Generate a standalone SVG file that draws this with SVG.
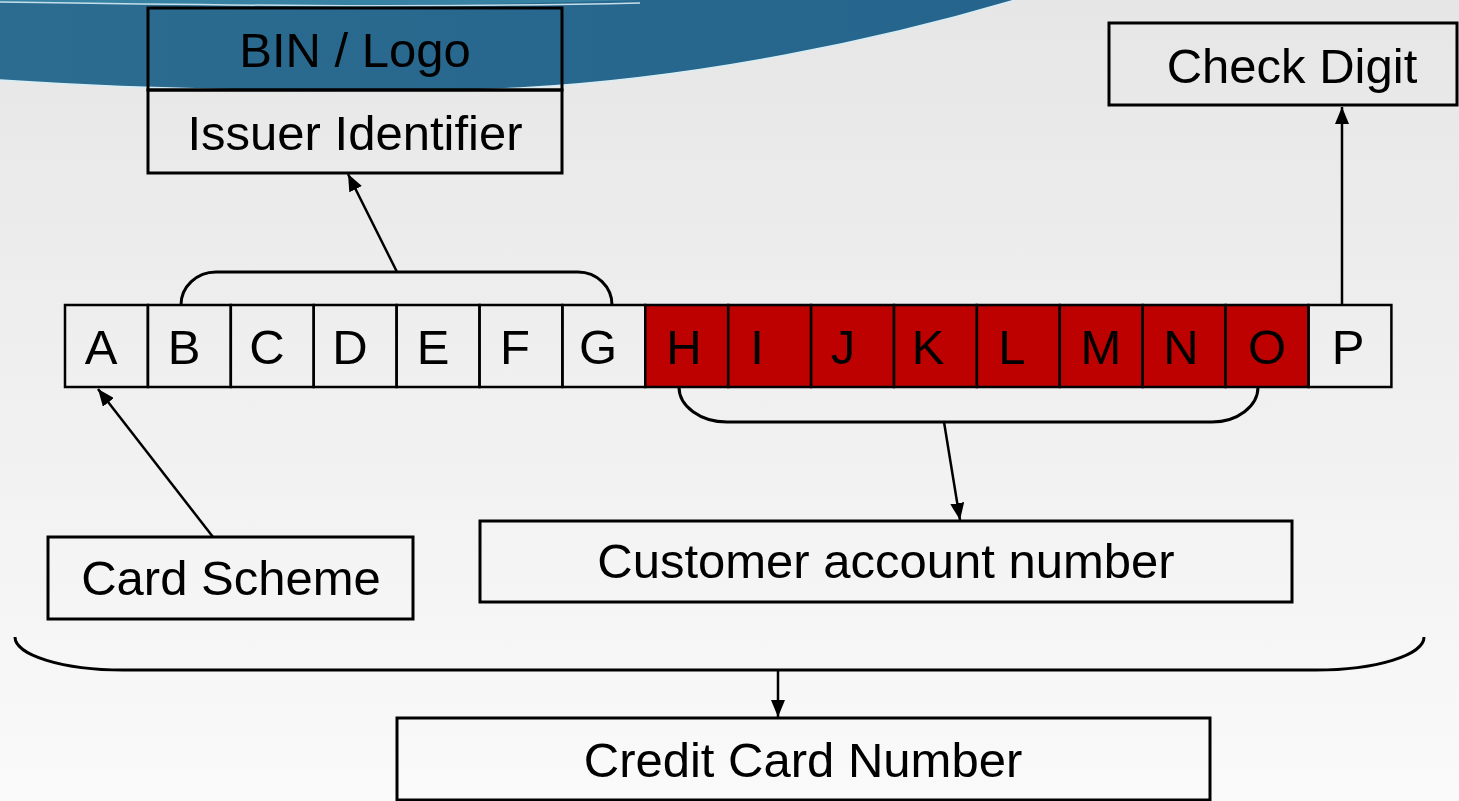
<svg xmlns="http://www.w3.org/2000/svg" width="1459" height="801" viewBox="0 0 1459 801">
<defs>
<linearGradient id="bg" x1="0" y1="0" x2="0" y2="1">
<stop offset="0" stop-color="#e6e6e6"/>
<stop offset="1" stop-color="#fafafa"/>
</linearGradient>
<linearGradient id="blue" x1="0" y1="0" x2="1" y2="0">
<stop offset="0" stop-color="#2c6c90"/>
<stop offset="1" stop-color="#25648c"/>
</linearGradient>
<marker id="arr" markerUnits="userSpaceOnUse" viewBox="0 0 17 14" refX="17" refY="7" markerWidth="17" markerHeight="14" orient="auto">
<path d="M0,0 L17,7 L0,14 z" fill="#000"/>
</marker>
</defs>
<style>
text{font-family:"Liberation Sans",Arial,sans-serif;font-size:49px;fill:#000;text-anchor:middle}
.box{fill:none;stroke:#000;stroke-width:3}
.cell{fill:none;stroke:#000;stroke-width:2.5}
.red{fill:#bd0000;stroke:#000;stroke-width:2.5}
.con{fill:none;stroke:#000;stroke-width:2.5}
.br{fill:none;stroke:#000;stroke-width:3}
</style>
<rect x="0" y="0" width="1459" height="801" fill="url(#bg)"/>
<g id="swoosh">
<path d="M0,0 L1015,0 C880,40 700,78 520,88 C380,95 150,90 0,80 Z" fill="url(#blue)"/>
<path d="M0,80 C150,90 380,95 520,88 C700,78 880,40 1015,0" fill="none" stroke="#d8eef6" stroke-width="1.5"/>
<path d="M0,0 L640,0 C420,8 200,5 0,2 Z" fill="#3781a3"/>
<path d="M0,2 C200,5 420,8 640,3" fill="none" stroke="#c4dfeb" stroke-width="1.5"/>
</g>
<g id="cells">
<rect class="cell" x="65" y="305" width="82.9" height="82"/>
<rect class="cell" x="147.9" y="305" width="82.9" height="82"/>
<rect class="cell" x="230.8" y="305" width="82.9" height="82"/>
<rect class="cell" x="313.7" y="305" width="82.9" height="82"/>
<rect class="cell" x="396.6" y="305" width="82.9" height="82"/>
<rect class="cell" x="479.5" y="305" width="82.9" height="82"/>
<rect class="cell" x="562.4" y="305" width="82.9" height="82"/>
<rect class="red" x="645.3" y="305" width="82.9" height="82"/>
<rect class="red" x="728.2" y="305" width="82.9" height="82"/>
<rect class="red" x="811.1" y="305" width="82.9" height="82"/>
<rect class="red" x="894" y="305" width="82.9" height="82"/>
<rect class="red" x="976.9" y="305" width="82.9" height="82"/>
<rect class="red" x="1059.8" y="305" width="82.9" height="82"/>
<rect class="red" x="1142.7" y="305" width="82.9" height="82"/>
<rect class="red" x="1225.6" y="305" width="82.9" height="82"/>
<rect class="cell" x="1308.5" y="305" width="82.9" height="82"/>
<text x="101" y="364">A</text>
<text x="184" y="364">B</text>
<text x="267" y="364">C</text>
<text x="350" y="364">D</text>
<text x="433" y="364">E</text>
<text x="515" y="364">F</text>
<text x="598" y="364">G</text>
<text x="684" y="364">H</text>
<text x="757" y="364">I</text>
<text x="843" y="364">J</text>
<text x="928" y="364">K</text>
<text x="1012" y="364">L</text>
<text x="1101" y="364">M</text>
<text x="1181" y="364">N</text>
<text x="1267" y="364">O</text>
<text x="1348" y="364">P</text>
</g>
<g id="bin-logo">
<rect class="box" x="148" y="8" width="414" height="82"/>
<text x="355" y="67">BIN / Logo</text>
</g>
<g id="issuer-identifier">
<rect class="box" x="148" y="90" width="414" height="83"/>
<text x="355" y="150">Issuer Identifier</text>
</g>
<g id="check-digit">
<rect class="box" x="1109" y="23" width="348" height="82"/>
<text x="1292" y="83">Check Digit</text>
</g>
<g id="card-scheme">
<rect class="box" x="48" y="537" width="365" height="82"/>
<text x="231" y="595">Card Scheme</text>
</g>
<g id="customer-account-number">
<rect class="box" x="480" y="521" width="812" height="81"/>
<text x="886" y="578">Customer account number</text>
</g>
<g id="credit-card-number">
<rect class="box" x="397" y="718" width="813" height="82"/>
<text x="803" y="777">Credit Card Number</text>
</g>
<g id="connectors">
<path class="br" d="M181,305 A35,33 0 0 1 216,272 L578,272 A34,33 0 0 1 612,305"/>
<path class="br" d="M679,387 A48,35 0 0 0 727,422 L1212,422 A46,35 0 0 0 1258,387"/>
<path class="br" d="M15,637 A108,33 0 0 0 123,670 L1316,670 A108,33 0 0 0 1424,637"/>
<line class="con" x1="397" y1="272" x2="348" y2="174" marker-end="url(#arr)"/>
<line class="con" x1="213" y1="537" x2="98" y2="389" marker-end="url(#arr)"/>
<line class="con" x1="944" y1="422" x2="960" y2="520" marker-end="url(#arr)"/>
<line class="con" x1="1342" y1="305" x2="1342" y2="107" marker-end="url(#arr)"/>
<line class="con" x1="778" y1="670" x2="778" y2="717" marker-end="url(#arr)"/>
</g>
</svg>
